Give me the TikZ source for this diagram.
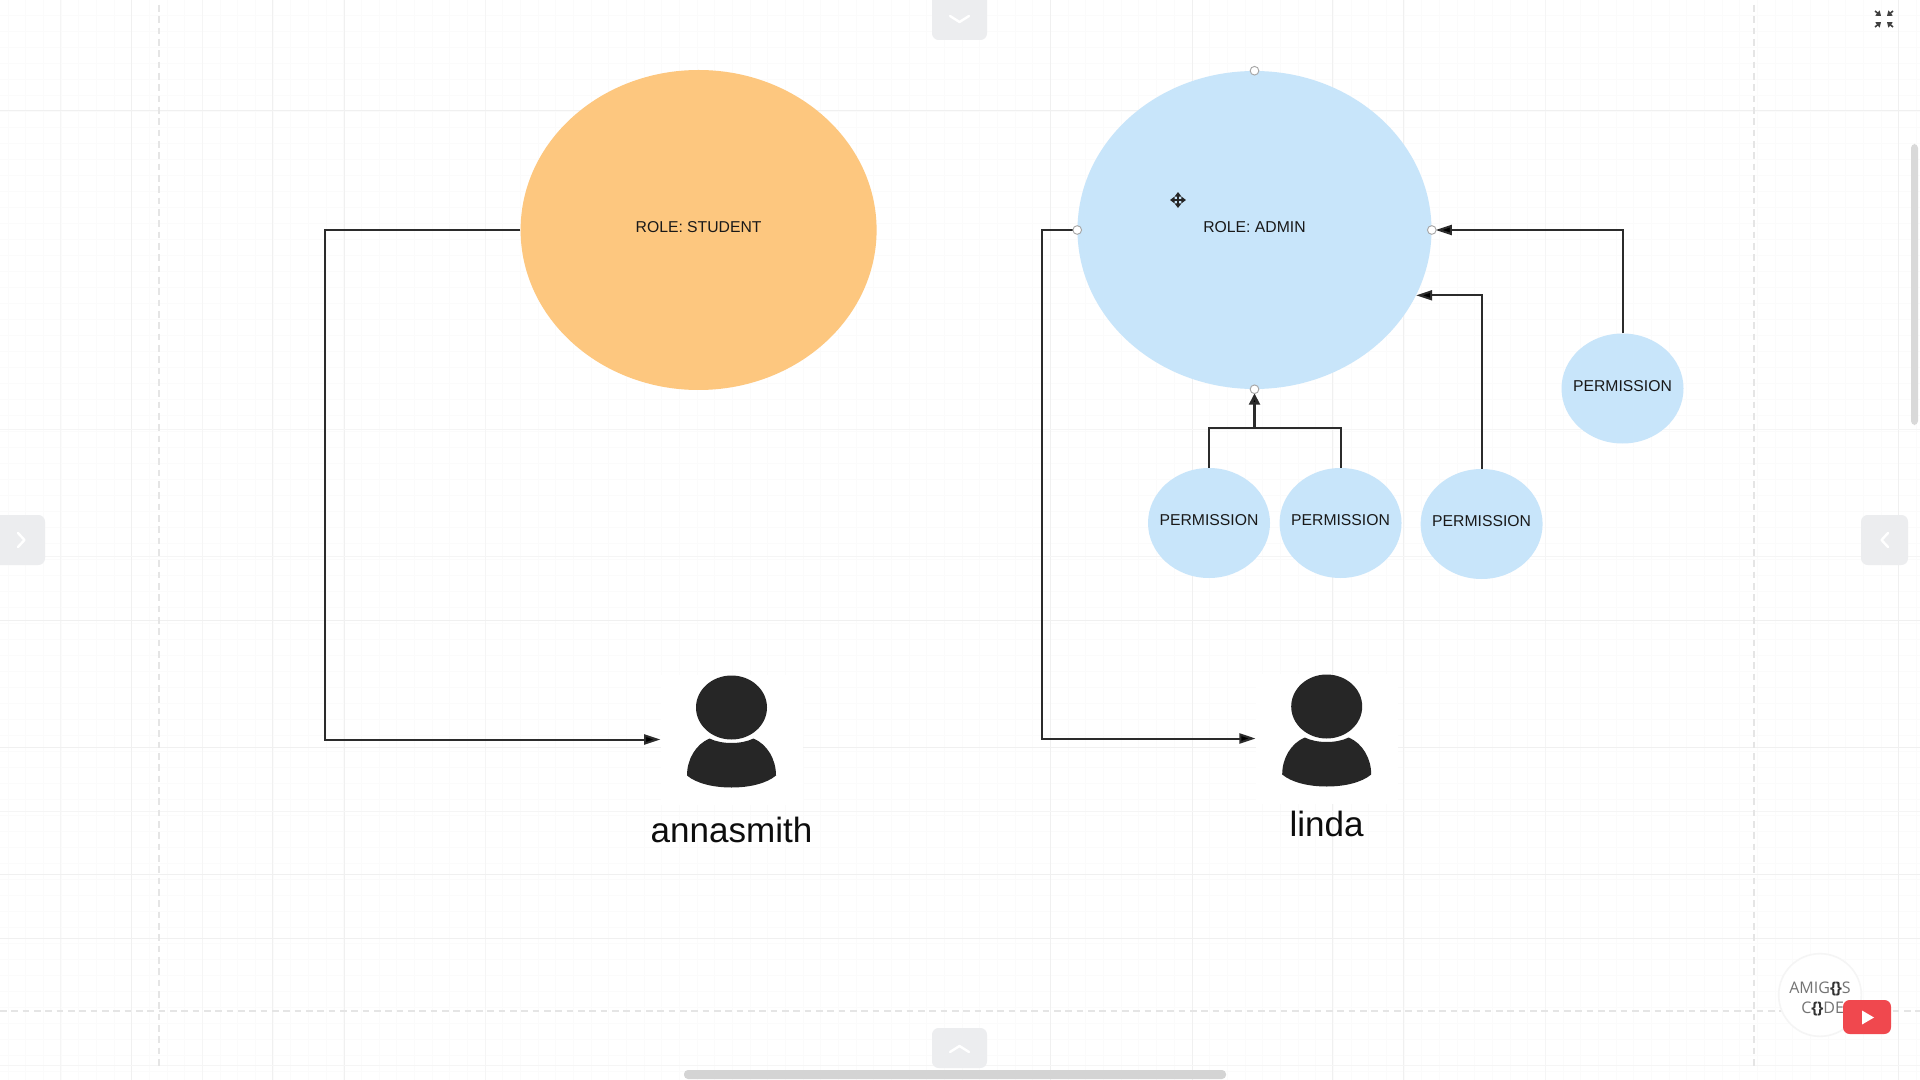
\documentclass[tikz,border=0pt]{standalone}
\usepackage{fontspec}
\setmainfont{Liberation Sans}
\newfontfamily\logofont{Open Sans}
\usetikzlibrary{shapes.geometric, arrows.meta, positioning}

\definecolor{studentfill}{HTML}{FDC77F}
\definecolor{adminfill}{HTML}{C8E5FA}
\definecolor{linkcolor}{HTML}{2B2B2B}
\definecolor{iconcolor}{HTML}{262626}
\definecolor{tabfill}{HTML}{ECEDEF}
\definecolor{ytred}{HTML}{F0484E}

\begin{document}
\begin{tikzpicture}[
    x=0.75pt, y=-0.75pt,
    role/.style={ellipse, inner sep=0pt, minimum width=267pt, minimum height=240pt, text depth=4.4pt, text=black!90, font=\fontsize{11.8pt}{14pt}\selectfont},
    permission/.style={ellipse, inner ysep=0pt, inner xsep=-15pt, minimum width=91.5pt, minimum height=82.5pt, text depth=4.4pt, text=black!90, fill=adminfill, font=\fontsize{11.8pt}{14pt}\selectfont},
    person/.style={rectangle, fill=white, minimum width=106.5pt, minimum height=97.5pt},
    username/.style={font=\fontsize{26.3pt}{30pt}\selectfont, inner sep=0pt, text=black!95},
    handle/.style={circle, draw=black!35, fill=white, line width=0.7pt, inner sep=0pt, minimum size=6.5pt},
    link/.style={draw=linkcolor, line width=1.5pt},
    arrow/.style={link, -{Triangle[length=12pt,width=7.5pt,fill=black]}},
    gridmajor/.style={draw=black!6, line width=0.75pt},
    gridmid/.style={draw=black!4, line width=0.6pt},
    gridminor/.style={draw=black!1.5, line width=0.6pt},
    griddash/.style={draw=black!10, line width=0.9pt, dash pattern=on 5pt off 3.5pt},
    tab/.style={fill=tabfill, rounded corners=5pt},
    chevron/.style={draw=white, line width=1.8pt, line cap=round, line join=round},
    shrink/.style={draw=black!75, line width=1.2pt, -{Triangle[length=3.5pt,width=5pt]}},
    usericon/.pic={
        \fill[iconcolor] (0,-32) ellipse [x radius=35.5, y radius=32];
        \fill[iconcolor] (-22,-1) .. controls (-36,5) and (-44.5,20) .. (-44.5,36)
            .. controls (-35,44) and (-18,48) .. (0,48)
            .. controls (18,48) and (35,44) .. (44.5,36)
            .. controls (44.5,20) and (36,5) .. (22,-1)
            .. controls (10,5) and (-10,5) .. (-22,-1) -- cycle;
    },
]
    \useasboundingbox (0,0) rectangle (1920,1080);
    \fill[white] (0,0) rectangle (1920,1080);

    % Canvas grid
    \foreach \gx in {8,25.67,...,1920} \draw[gridminor] (\gx,0) -- (\gx,1080);
    \foreach \gy in {15,31,...,1080} \draw[gridminor] (0,\gy) -- (1920,\gy);
    \foreach \gx in {60,202,485,1545} \draw[gridmid] (\gx,0) -- (\gx,1080);
    \foreach \gx in {131,272,344,1050,1192,1332,1403,1898} \draw[gridmajor] (\gx,0) -- (\gx,1080);
    \foreach \gy in {429,556,811,1065} \draw[gridmid] (0,\gy) -- (1920,\gy);
    \foreach \gy in {111,620,747,874,938} \draw[gridmajor] (0,\gy) -- (1920,\gy);
    \draw[griddash] (159,5) -- (159,1070);
    \draw[griddash] (1754,5) -- (1754,1070);
    \draw[griddash] (0,1011) -- (1920,1011);

    % Roles
    \node (student) [role, fill=studentfill] at (698.6,230) {ROLE: STUDENT};
    \node (admin) [role, fill=adminfill, minimum width=265.5pt, minimum height=238.5pt] at (1254.5,230) {ROLE: ADMIN};

    % Permissions
    \node (perm1) [permission] at (1209,523) {PERMISSION};
    \node (perm2) [permission, right=6.75pt of perm1] {PERMISSION};
    \node (perm3) [permission, right=13.9pt of perm2, yshift=-0.75pt] {PERMISSION};
    \node (perm4) [permission] at (1622.5,388.5) {PERMISSION};

    % Users
    \node (anna) [person] at (731.5,739.5) {};
    \node (linda) [person] at (1326.7,738.5) {};
    \pic at (anna) {usericon};
    \pic at (linda) {usericon};
    \node (annaName) [username, anchor=base] at (731.5,842) {annasmith};
    \node (lindaName) [username, anchor=base] at (1326.7,836) {linda};

    % Connectors
    \coordinate (annaBend) at (325,480);
    \coordinate (lindaBend) at (1041.7,480);
    \coordinate (permJoin) at (1254.5,428);
    \draw [arrow] (student.west) -| (annaBend) |- (anna.west);
    \draw [arrow] (admin.west) -| (lindaBend) |- (linda.west);
    \draw [arrow, shorten >=3pt] (perm4.north) |- (admin.east);
    \draw [arrow] (perm3.north) |- (admin.-22);
    \draw [link] (perm1.north) |- (permJoin);
    \draw [link] (perm2.north) |- (permJoin);
    \draw [link, line width=2.5pt, -{Triangle[length=8.5pt,width=8pt,fill=black]}, shorten >=3pt] (permJoin) -- (admin.south);

    % Selection handles
    \node (handleN) [handle] at (admin.north) {};
    \node (handleS) [handle] at (admin.south) {};
    \node (handleE) [handle] at (admin.east) {};
    \node (handleW) [handle] at (admin.west) {};

    % Move cursor
    \coordinate (cursor) at (1178,200);
    \draw[black!85, line width=1.2pt, {Triangle[length=3.5pt,width=5pt]}-{Triangle[length=3.5pt,width=5pt]}] ([xshift=-6pt]cursor) -- ([xshift=6pt]cursor);
    \draw[black!85, line width=1.2pt, {Triangle[length=3.5pt,width=5pt]}-{Triangle[length=3.5pt,width=5pt]}] ([yshift=-6pt]cursor) -- ([yshift=6pt]cursor);

    % Viewer controls
    \fill[tab] (932,-20) rectangle (987,40);
    \fill[tab] (932,1028) rectangle (987,1068);
    \fill[tab] (-20,515) rectangle (45,565);
    \fill[tab] (1861,515) rectangle (1908,565);
    \draw[chevron] (950,16) -- (959.5,22) -- (969,16);
    \draw[chevron] (950,1052) -- (959.5,1046) -- (969,1052);
    \draw[chevron] (18,533) -- (24.5,540) -- (18,547);
    \draw[chevron] (1888,533) -- (1881.5,540) -- (1888,547);
    \fill[black!15, rounded corners=3pt] (1911,144) rectangle (1918,425);
    \fill[black!17, rounded corners=3pt] (684,1070) rectangle (1226,1079);
    \draw[shrink] (1875,11) -- (1881,16);
    \draw[shrink] (1893,11) -- (1887,16);
    \draw[shrink] (1875,27) -- (1881,22);
    \draw[shrink] (1893,27) -- (1887,22);

    % Channel logo
    \node (logo) [circle, draw=black!4, line width=1.2pt, fill=white, minimum size=62pt, inner sep=0pt] at (1820,995) {};
    \node (logoText) [align=center, inner sep=0pt, text=black!55, font=\logofont\fontsize{12pt}{15pt}\selectfont] at (1820,999) {AMIG\textcolor{black!80}{\textbf{\{\kern-0.5pt\}}}S\\\hspace{4pt}C\textcolor{black!80}{\textbf{\{\kern-0.5pt\}}}DE};
    \node (youtube) [rectangle, rounded corners=5pt, fill=ytred, minimum width=36pt, minimum height=25.5pt, inner sep=0pt] at (1867,1017) {};
    \fill[white] (1862,1010.5) -- (1874,1017.5) -- (1862,1024.5) -- cycle;

\end{tikzpicture}
\end{document}
